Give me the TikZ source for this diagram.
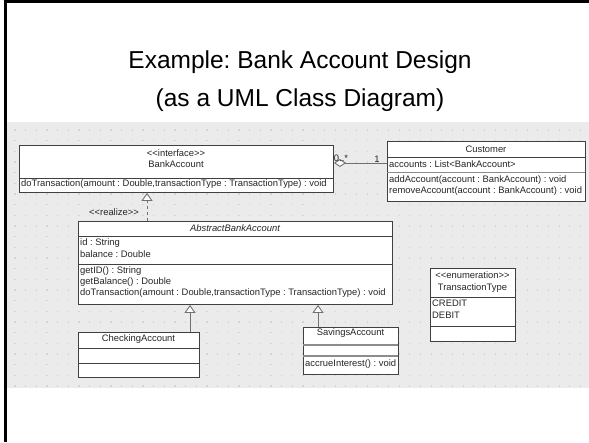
\documentclass[tikz,border=0pt]{standalone}
\usepackage{fontspec}
\setmainfont{Liberation Sans}
\usetikzlibrary{arrows.meta}
\newfontfamily\umlf{Liberation Sans}
\frenchspacing
\definecolor{bgc}{HTML}{EBEBEB}
\definecolor{dotc}{HTML}{D4D4D4}
\definecolor{linec}{HTML}{404040}
\definecolor{connc}{HTML}{707070}
\tikzset{
  cls/.style={draw=linec, line width=0.9pt, fill=white, inner sep=0pt, anchor=north west,
    preaction={fill=black!45, transform canvas={xshift=1pt,yshift=-1pt}}},
  sep/.style={draw=linec, line width=0.8pt},
  sepg/.style={draw=black!45, line width=1.6pt},
  lt/.style={font=\umlf\fontsize{9.4}{11}\selectfont, inner sep=0pt, anchor=west, text=black!85},
  ct/.style={font=\umlf\fontsize{9.4}{11}\selectfont, inner sep=0pt, anchor=center, text=black!85},
  conn/.style={draw=connc, line width=0.9pt},
  gen/.style={conn, -{Triangle[open, length=8pt, width=11pt, fill=white]}},
}
\begin{document}
\begin{tikzpicture}[x=1pt, y=-1pt]
\useasboundingbox (0,0) rectangle (589,442);
\fill[white] (0,0) rectangle (589,442);
% diagram background
\fill[bgc] (7,122) rectangle (589,388);
\foreach \i in {0,...,54} {
  \foreach \j in {0,...,24} {
    \fill[dotc] ({15+\i*10.67-0.6},{130+\j*10.67-0.6}) rectangle ++(1.2,1.2);
  }
}
% frame
\draw[line width=3pt, black] (5,0) -- (5,442);
\draw[line width=3pt, black] (3.5,1) -- (589,1);
% title
\node[font=\fontsize{24.5}{29}\selectfont, anchor=center, inner sep=0pt] (t1) at (300,62) {Example: Bank Account Design};
\node[font=\fontsize{24.5}{29}\selectfont, anchor=center, inner sep=0pt] (t2) at (300,100) {(as a UML Class Diagram)};

% BankAccount
\node[cls, minimum width=314pt, minimum height=47pt] (ba) at (19,145) {};
\draw[sep] (19,178) -- (333,178);
\node[ct] (ba1) at (176,153) {<<interface>>};
\node[ct] (ba2) at (176,164.5) {BankAccount};
\node[lt] (ba3) at (21,184) {doTransaction(amount : Double,transactionType : TransactionType) : void};

% Customer
\node[cls, minimum width=198pt, minimum height=60pt] (cu) at (387,141) {};
\draw[sep] (387,157.5) -- (585,157.5);
\draw[sepg] (387,172.5) -- (585,172.5);
\node[ct] (cu1) at (486,149) {Customer};
\node[lt] (cu2) at (389,164) {accounts : List<BankAccount>};
\node[lt] (cu3) at (389,180.5) {addAccount(account : BankAccount) : void};
\node[lt] (cu4) at (389,191.5) {removeAccount(account : BankAccount) : void};

% AbstractBankAccount
\node[cls, minimum width=314pt, minimum height=83pt] (ab) at (78,221) {};
\draw[sep] (78,236) -- (392,236);
\draw[sep] (78,264) -- (392,264);
\node[ct, font=\umlf\itshape\fontsize{9.4}{11}\selectfont] (ab1) at (235,228.5) {AbstractBankAccount};
\node[lt] (ab2) at (80,243.5) {id : String};
\node[lt] (ab3) at (80,254.5) {balance : Double};
\node[lt] (ab4) at (80,271.5) {getID() : String};
\node[lt] (ab5) at (80,282.5) {getBalance() : Double};
\node[lt] (ab6) at (80,293.5) {doTransaction(amount : Double,transactionType : TransactionType) : void};

% CheckingAccount
\node[cls, minimum width=121pt, minimum height=45pt] (ca) at (78,332) {};
\draw[sep] (78,348) -- (199,348);
\draw[sep] (78,363) -- (199,363);
\node[ct] (ca1) at (138.5,339.5) {CheckingAccount};

% SavingsAccount
\node[cls, minimum width=95pt, minimum height=47pt] (sa) at (303,327) {};
\draw[sepg] (303,345) -- (398,345);
\draw[sepg] (303,356) -- (398,356);
\node[ct] (sa1) at (350.5,333.5) {SavingsAccount};
\node[lt] (sa2) at (305,364.5) {accrueInterest() : void};

% TransactionType
\node[cls, minimum width=85pt, minimum height=73pt] (tt) at (430,268) {};
\draw[sep] (430,297) -- (515,297);
\draw[sep] (430,326) -- (515,326);
\node[ct] (tt1) at (472.5,275) {<<enumeration>>};
\node[ct] (tt2) at (472.5,288) {TransactionType};
\node[lt] (tt3) at (432,303.5) {CREDIT};
\node[lt] (tt4) at (432,315) {DEBIT};

% connectors
\draw[conn, {Diamond[open, length=12pt, width=8pt, fill=white]}-] (ba.east |- 0,163) -- (cu.west |- 0,163);
\node[ct] (m1) at (341,158) {0..*};
\node[ct] (m2) at (377,159.5) {1};
\draw[gen, dashed, dash pattern=on 3pt off 3pt] (ab.north -| 147,0) -- (ba.south -| 147,0);
\node[ct] (rl) at (114,212) {<<realize>>};
\draw[gen] (ca.north -| 190,0) -- (ab.south -| 190,0);
\draw[gen] (sa.north -| 318,0) -- (ab.south -| 318,0);
\end{tikzpicture}
\end{document}
